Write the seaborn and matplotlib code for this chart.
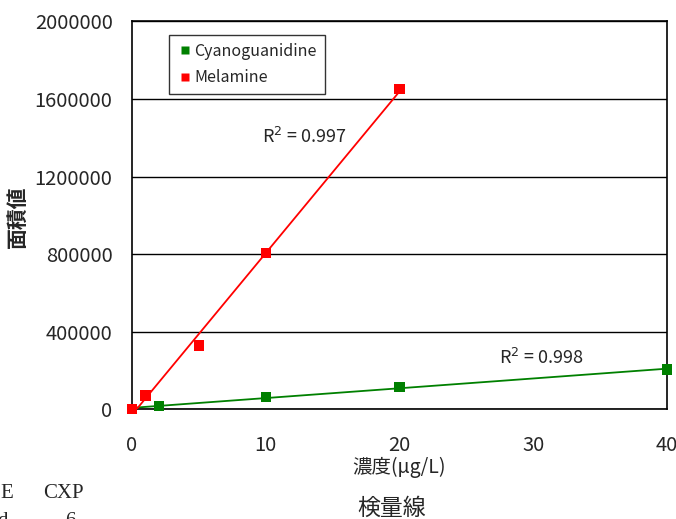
import matplotlib
matplotlib.use("Agg")
from matplotlib import pyplot as plt
import seaborn as sns
import numpy as np
import pandas as pd

# calibration data
cyano_conc = [0, 2, 10, 20, 40]
cyano_area = [0, 15000, 62000, 113000, 204000]
mela_conc = [0, 1, 5, 10, 20]
mela_area = [0, 70000, 328000, 805000, 1653000]

series_names = ['Cyanoguanidine', 'Melamine']
series_colors = ['#008000', '#FF0000']
r2_labels = ['R$^2$ = 0.998', 'R$^2$ = 0.997']
y_ticks = [0, 400000, 800000, 1200000, 1600000, 2000000]
x_ticks = [0, 10, 20, 30, 40]

df = pd.concat([
    pd.DataFrame({'conc': cyano_conc, 'area': cyano_area, 'name': series_names[0]}),
    pd.DataFrame({'conc': mela_conc, 'area': mela_area, 'name': series_names[1]}),
])

sns.set_style('white')
plt.rcParams['font.family'] = ['Noto Sans CJK JP', 'DejaVu Sans']

fig = plt.figure(figsize=(6.76, 5.19), dpi=100)
ax = fig.add_axes([0.1953, 0.2119, 0.7914, 0.7467])

# trend lines
for name, col in zip(series_names, series_colors):
    d = df[df['name'] == name]
    k, b = np.polyfit(d['conc'], d['area'], 1)
    xs = np.array([d['conc'].min(), d['conc'].max()])
    ax.plot(xs, k * xs + b, color=col, lw=1.3, zorder=3)

sns.scatterplot(data=df, x='conc', y='area', hue='name', palette=series_colors,
                marker='s', s=55, edgecolor='none', ax=ax, zorder=4, clip_on=False)

ax.set_xlim(0, 40)
ax.set_ylim(0, 2000000)
ax.set_xticks(x_ticks)
ax.set_yticks(y_ticks)
ax.set_yticklabels([str(v) for v in y_ticks], fontsize=14.5)
ax.set_xticklabels([str(v) for v in x_ticks], fontsize=14.5)
ax.tick_params(axis='x', direction='in', length=8, color='#555555', pad=19)
ax.tick_params(axis='y', direction='out', length=4, color='black', pad=10)
ax.yaxis.grid(True, color='black', lw=1)
ax.xaxis.grid(False)
for s in ax.spines.values():
    s.set_color('black')
    s.set_linewidth(1.2)

ax.set_xlabel('濃度(μg/L)', fontsize=14, labelpad=0)
ax.set_ylabel('面積値', fontsize=15, fontweight='bold')
ax.yaxis.set_label_coords(-0.194, 0.497)

ax.text(12.86, 1402000, r2_labels[1], fontsize=13, ha='center', va='center')
ax.text(30.6, 265000, r2_labels[0], fontsize=13, ha='center', va='center')

leg = ax.legend(loc='upper left', bbox_to_anchor=(0.069, 0.966), borderaxespad=0,
                fontsize=11.5, frameon=True, fancybox=False, edgecolor='black',
                handletextpad=0.1, handlelength=1.0, borderpad=0.5,
                labelspacing=0.6, markerscale=0.85)
leg.get_frame().set_linewidth(1.0)

fig.text(392 / 676, 1 - 508 / 519, '検量線', fontsize=16.5, ha='center', va='center')
fig.text(0, 1 - 493 / 519, 'E', family='Liberation Serif', fontsize=15, ha='left', va='center')
fig.text(43 / 676, 1 - 493 / 519, 'CXP', family='Liberation Serif', fontsize=15, ha='left', va='center')
fig.text(-0.004, 1 - 522 / 519, 'd', family='Liberation Serif', fontsize=15, ha='left', va='center')
fig.text(65 / 676, 1 - 522 / 519, '6', family='Liberation Serif', fontsize=15, ha='left', va='center')

fig.savefig('out.png', dpi=100)
